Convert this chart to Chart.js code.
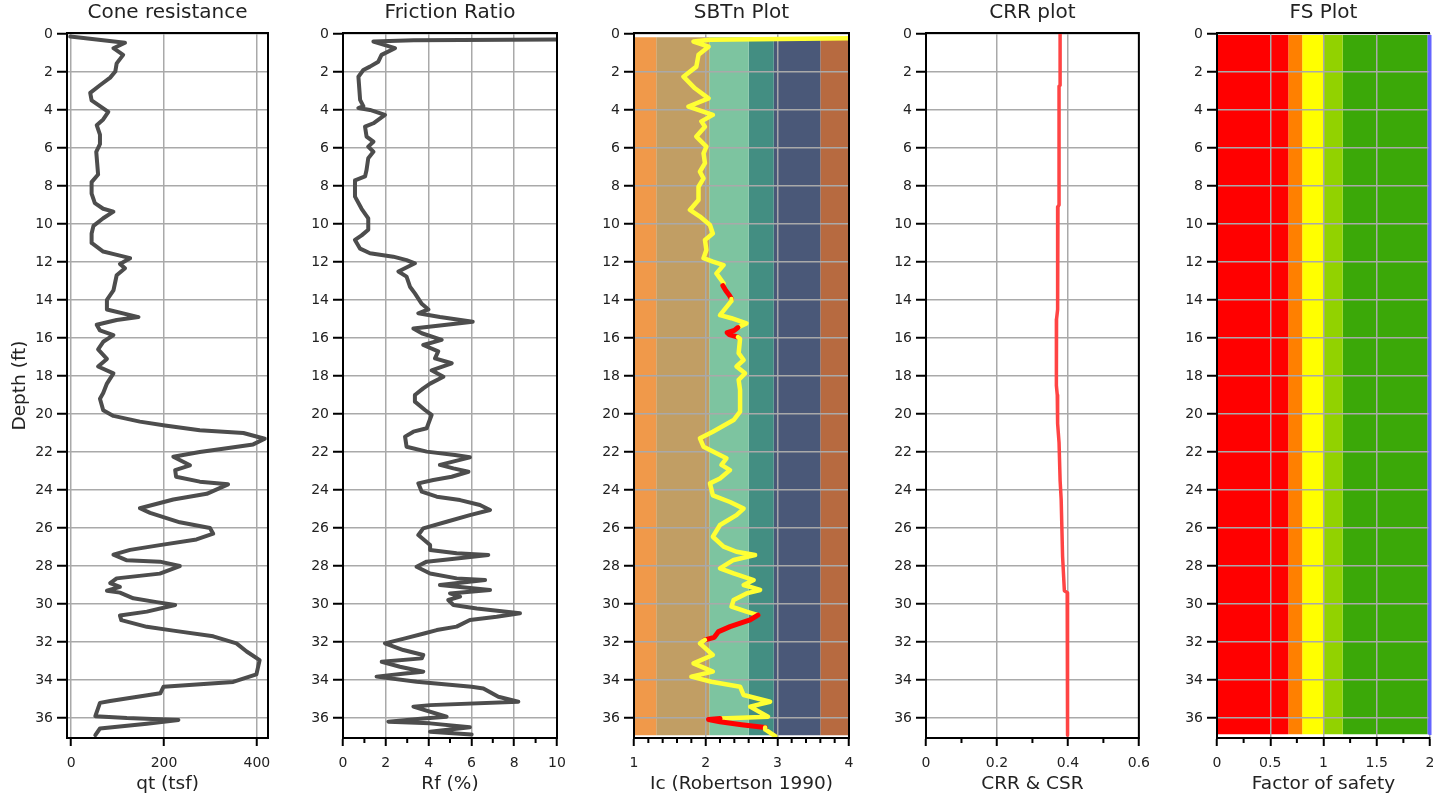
<!DOCTYPE html>
<html>
<head>
<meta charset="utf-8">
<title>CPT liquefaction plots</title>
<script src="https://cdn.jsdelivr.net/npm/chart.js@4.4.1/dist/chart.umd.min.js"></script>
<style>
  body { margin: 0; background: #fff; width: 1453px; height: 799px; overflow: hidden; position: relative; }
  canvas { position: absolute; top: 0; }
</style>
</head>
<body>
<canvas id="qtChart"></canvas>
<canvas id="rfChart"></canvas>
<canvas id="sbtChart"></canvas>
<canvas id="crrChart"></canvas>
<canvas id="fsChart"></canvas>
<script>
// depth axis
const depthTicks = [0, 2, 4, 6, 8, 10, 12, 14, 16, 18, 20, 22, 24, 26, 28, 30, 32, 34, 36];

// cone resistance qt (tsf) vs depth (ft)
const qtDepth = [0.14, 0.46, 0.75, 1.1, 1.55, 1.98, 2.3, 2.7, 3.1, 3.5, 3.8, 4.1, 4.5, 4.8, 5.3, 5.8, 6.2, 6.8, 7.4, 7.8,
  8.4, 8.9, 9.2, 9.35, 9.7, 10.1, 10.5, 11.0, 11.45, 11.6, 11.8, 12.1, 12.33, 12.7, 13.5, 14.0, 14.5, 14.9, 15.05, 15.3,
  15.6, 15.85, 16.2, 16.6, 17.1, 17.5, 17.86, 18.4, 18.9, 19.2, 19.8, 20.1, 20.4, 20.6, 20.85, 21.0, 21.3, 21.6, 21.8, 22.0,
  22.25, 22.7, 22.95, 23.3, 23.56, 23.7, 24.2, 24.5, 24.96, 25.2, 25.7, 26.0, 26.3, 26.6, 26.9, 27.15, 27.4, 27.7, 27.77, 28.0,
  28.4, 28.65, 28.9, 29.1, 29.3, 29.4, 29.7, 29.9, 30.05, 30.4, 30.6, 30.85, 31.2, 31.4, 31.7, 32.07, 32.5, 32.95, 33.7, 34.1,
  34.35, 34.7, 35.1, 35.2, 35.9, 36.0, 36.1, 36.3, 36.55, 36.9];
const qtValue = [-2, 116, 91, 112, 98, 95, 84, 62, 41, 44, 62, 80, 69, 55, 62, 62, 54, 56, 58, 44,
  44, 51, 69, 91, 69, 48, 44, 44, 69, 94, 127, 105, 116, 98, 91, 77, 77, 145, 98, 55,
  62, 91, 69, 58, 77, 58, 91, 77, 69, 62, 69, 91, 148, 202, 277, 371, 417, 392, 335, 277,
  220, 256, 224, 226, 277, 338, 292, 220, 148, 170, 234, 299, 306, 270, 191, 127, 91, 120, 191, 234,
  191, 98, 84, 105, 77, 105, 134, 184, 224, 163, 105, 108, 163, 220, 306, 356, 378, 406, 399, 349,
  199, 192, 84, 62, 52, 120, 231, 163, 62, 52];

// friction ratio Rf (%) vs depth (ft)
const rfDepth = [0.28, 0.33, 0.4, 0.75, 1.1, 1.46, 1.72, 1.9, 2.25, 3.47, 3.8, 3.9, 4.0, 4.26, 4.7, 4.88, 5.4, 5.67, 5.93, 6.2,
  6.54, 7.16, 7.5, 7.7, 8.56, 9.2, 9.7, 10.3, 10.6, 10.84, 11.3, 11.54, 11.72, 11.9, 12.07, 12.5, 12.77, 13.3, 13.65, 14.2,
  14.5, 14.7, 14.9, 15.14, 15.3, 15.5, 15.75, 16.1, 16.37, 16.7, 17.07, 17.33, 17.7, 18.04, 18.4, 18.65, 19.0, 19.35, 19.79, 20.05,
  20.75, 20.93, 21.19, 21.72, 21.98, 22.16, 22.28, 22.68, 22.86, 23.04, 23.3, 23.47, 23.65, 24.09, 24.35, 24.53, 24.79, 25.05, 25.32, 25.67,
  26.02, 26.37, 26.89, 27.16, 27.33, 27.42, 27.6, 27.77, 28.04, 28.39, 28.65, 28.74, 29.0, 29.26, 29.44, 29.61, 29.79, 30.05, 30.23, 30.49,
  30.67, 30.84, 31.19, 31.37, 31.54, 31.81, 32.07, 32.42, 32.68, 32.86, 33.04, 33.3, 33.56, 33.65, 33.82, 34.09, 34.35, 34.44, 34.88, 35.14,
  35.32, 35.4, 35.93, 36.02, 36.19, 36.28, 36.49, 36.72, 36.86];
const rfValue = [12, 3.3, 1.42, 2.43, 1.8, 1.65, 1.26, 0.95, 0.72, 0.8, 0.95, 0.72, 1.26, 1.96, 1.42, 1.03, 1.1, 1.42, 1.18, 1.42,
  1.18, 1.1, 1.03, 0.56, 0.56, 0.87, 1.18, 1.18, 0.87, 0.56, 0.8, 1.26, 2.35, 2.97, 3.36, 2.59, 2.97, 3.13, 3.36, 3.68,
  3.99, 3.52, 4.53, 6.06, 4.84, 3.29, 3.68, 4.61, 3.75, 4.45, 4.3, 5.08, 4.14, 4.69, 4.07, 3.75, 3.36, 3.36, 3.83, 4.14,
  3.91, 3.29, 2.9, 2.97, 3.91, 5.23, 5.93, 4.53, 5.16, 5.86, 5.08, 4.22, 3.52, 3.68, 4.38, 5.47, 6.4, 6.87, 5.93, 4.84,
  3.75, 3.52, 4.07, 4.07, 5.31, 6.79, 5.31, 3.91, 3.44, 4.07, 5.31, 6.64, 4.53, 6.87, 5.0, 5.47, 4.92, 5.16, 6.25, 8.27,
  7.18, 5.93, 5.31, 4.38, 3.83, 2.9, 1.96, 2.82, 3.75, 3.68, 1.81, 2.66, 3.75, 2.9, 1.57, 3.44, 6.01, 6.56, 7.26, 8.19,
  4.07, 3.29, 4.84, 3.75, 2.12, 4.07, 5.93, 4.07, 6.01];

// soil behaviour type index Ic vs depth, liq = 1 where flagged liquefiable
const icDepth = [0.2, 0.3, 0.4, 0.67, 1.1, 1.72, 2.25, 2.86, 3.39, 3.82, 4.26, 4.6, 4.88, 5.4, 5.93, 6.28, 6.8, 7.25, 7.6, 8.04,
  8.74, 9.26, 9.61, 10.05, 10.5, 10.84, 11.37, 11.8, 11.98, 12.16, 12.6, 13.12, 13.25, 13.5, 13.75, 13.95, 14.05, 14.8, 14.96, 15.23,
  15.45, 15.6, 15.72, 15.82, 15.95, 16.05, 16.8, 17.16, 17.5, 17.86, 18.2, 18.74, 19.88, 20.32, 20.93, 21.28, 21.72, 22.07, 22.33, 22.68,
  22.95, 23.39, 23.65, 24.28, 24.63, 24.98, 25.32, 25.84, 26.46, 26.98, 27.25, 27.42, 27.68, 28.12, 28.39, 28.74, 29.0, 29.26, 29.44, 29.79,
  30.14, 30.4, 30.58, 30.84, 31.19, 31.45, 31.75, 31.89, 32.07, 32.68, 33.12, 33.56, 33.82, 34.09, 34.35, 34.79, 35.14, 35.4, 35.93, 36.02,
  36.08, 36.2, 36.35, 36.5, 36.6, 36.95];
const icValue = [4.6, 2.06, 1.83, 2.04, 1.9, 1.87, 1.69, 1.85, 2.04, 1.76, 2.1, 1.94, 1.99, 1.87, 2.01, 1.97, 1.99, 1.92, 1.97, 1.9,
  1.9, 1.78, 1.92, 2.06, 2.1, 1.99, 2.01, 1.97, 2.1, 2.25, 2.15, 2.25, 2.24, 2.28, 2.33, 2.36, 2.36, 2.2, 2.36, 2.57,
  2.45, 2.40, 2.30, 2.33, 2.45, 2.48, 2.46, 2.53, 2.43, 2.55, 2.46, 2.48, 2.48, 2.39, 2.1, 1.92, 1.97, 2.15, 2.29, 2.22,
  2.34, 2.2, 2.06, 2.1, 2.34, 2.53, 2.43, 2.2, 2.1, 2.25, 2.43, 2.69, 2.39, 2.2, 2.39, 2.67, 2.53, 2.76, 2.57, 2.39,
  2.36, 2.57, 2.73, 2.62, 2.34, 2.18, 2.12, 1.99, 1.92, 2.1, 1.83, 2.1, 1.8, 2.08, 2.48, 2.53, 2.9, 2.62, 2.87, 2.2,
  2.04, 2.2, 2.5, 2.83, 2.83, 2.97];
const icLiq = [0, 0, 0, 0, 0, 0, 0, 0, 0, 0, 0, 0, 0, 0, 0, 0, 0, 0, 0, 0,
  0, 0, 0, 0, 0, 0, 0, 0, 0, 0, 0, 0, 1, 1, 1, 1, 0, 0, 0, 0,
  1, 1, 1, 1, 1, 0, 0, 0, 0, 0, 0, 0, 0, 0, 0, 0, 0, 0, 0, 0,
  0, 0, 0, 0, 0, 0, 0, 0, 0, 0, 0, 0, 0, 0, 0, 0, 0, 0, 0, 0,
  0, 0, 1, 1, 1, 1, 1, 1, 0, 0, 0, 0, 0, 0, 0, 0, 0, 0, 0, 1,
  1, 1, 1, 1, 0, 0];

// Robertson (1990) zone boundaries on Ic, and depth span of the zone bands
const sbtBounds = [1, 1.31, 2.05, 2.6, 2.95, 3.6, 4];
const sbtSpan = [0.17, 36.9];

// cyclic resistance ratio vs depth
const crrDepth = [0.0, 2.7, 2.75, 9.0, 9.1, 14.5, 15.0, 17.0, 18.5, 19.0, 20.5, 21.5, 23.5, 24.5, 27.5, 29.3, 29.4, 36.9];
const crrValue = [0.378, 0.378, 0.375, 0.375, 0.372, 0.371, 0.368, 0.367, 0.368, 0.370, 0.371, 0.375, 0.378, 0.381, 0.385, 0.390, 0.398, 0.399];

// factor of safety classes and depth span
const fsBounds = [0, 0.67, 0.8, 1.0, 1.18, 1.975, 2.0];
const fsSpan = [0.05, 36.85];

// x axis ticks per panel
const qtTicks = [0, 200, 400];
const rfTicks = [0, 2, 4, 6, 8, 10];
const rfMinor = [1, 3, 5, 7, 9];
const icTicks = [1, 2, 3, 4];
const icMinor = [1.2, 1.4, 1.6, 1.8, 2.2, 2.4, 2.6, 2.8, 3.2, 3.4, 3.6, 3.8];
const crrTicks = [0, 0.2, 0.4, 0.6];
const crrMinor = [0.1, 0.3, 0.5];
const fsTicks = [0, 0.5, 1, 1.5, 2];
const fsMinor = [0.25, 0.75, 1.25, 1.75];

// styles
const FONT = "'DejaVu Sans', sans-serif";
const TEXT = '#222';
const GRID = '#a9a9a9';
const CURVE = '#4d4d4d';
const sbtColors = ['#f0994a', '#c19e64', '#7dc4a0', '#438e82', '#4a5878', '#b76a40'];
const fsColors = ['#ff0000', '#ff8000', '#ffff00', '#92d200', '#3ba808', '#6464ff'];

const PLOT_BOTTOM = 738;
const H = 799;

function pts(xs, ys) {
  return ys.map((d, i) => ({ x: xs[i], y: d }));
}

function bandSets(bounds, span, colors) {
  return bounds.slice(0, -1).map((x0, i) => {
    const x1 = bounds[i + 1];
    return {
      data: [{ x: x0, y: span[0] }, { x: x1, y: span[0] }, { x: x1, y: span[1] }, { x: x0, y: span[1] }],
      showLine: true,
      fill: 'shape',
      backgroundColor: colors[i],
      borderColor: 'rgba(0,0,0,0)',
      borderWidth: 0,
      pointRadius: 0
    };
  });
}

// frame around the plot area plus short minor ticks on the x axis
const framePlugin = {
  id: 'frame',
  afterDraw(chart, args, opts) {
    const ctx = chart.ctx;
    const a = chart.chartArea;
    ctx.save();
    ctx.lineWidth = 2;
    ctx.strokeStyle = '#000';
    ctx.beginPath();
    ctx.moveTo(a.right, a.top);
    ctx.lineTo(a.left, a.top);
    ctx.lineTo(a.left, a.bottom);
    ctx.lineTo(a.right, a.bottom);
    ctx.stroke();
    ctx.strokeStyle = opts.rightColor || '#000';
    ctx.lineWidth = opts.rightColor ? 3 : 2;
    ctx.beginPath();
    ctx.moveTo(a.right, a.top + (opts.rightColor ? 2 : -1));
    ctx.lineTo(a.right, a.bottom - (opts.rightColor ? 3 : -1));
    ctx.stroke();
    ctx.strokeStyle = '#000';
    ctx.lineWidth = 2;
    const xs = chart.scales.x;
    ctx.beginPath();
    (opts.minor || []).forEach(v => {
      const px = xs.getPixelForValue(v);
      ctx.moveTo(px, a.bottom);
      ctx.lineTo(px, a.bottom + 5);
    });
    ctx.stroke();
    ctx.restore();
  }
};

function buildPanel(id, p) {
  const yW = p.yTitle ? p.plotLeft : 60;
  const left = p.plotLeft - yW;
  const canvas = document.getElementById(id);
  canvas.width = p.plotRight + 20 - left;
  canvas.height = H;
  canvas.style.left = left + 'px';

  return new Chart(canvas, {
    type: 'scatter',
    data: { datasets: p.datasets },
    plugins: [framePlugin],
    options: {
      responsive: false,
      animation: false,
      events: [],
      layout: { padding: { left: 0, right: 20, top: 0, bottom: 0 } },
      elements: {
        line: { tension: 0, borderJoinStyle: 'round', borderCapStyle: 'round' },
        point: { radius: 0 }
      },
      plugins: {
        legend: { display: false },
        tooltip: { enabled: false },
        filler: { drawTime: 'beforeDraw' },
        frame: { minor: p.minor, rightColor: p.rightColor },
        title: {
          display: true,
          text: p.title,
          fullSize: false,
          color: TEXT,
          font: { family: FONT, size: 20, weight: 'normal' },
          padding: { top: 1, bottom: 8 }
        }
      },
      scales: {
        x: {
          type: 'linear',
          min: p.xMin,
          max: p.xMax,
          afterBuildTicks: s => { s.ticks = p.xTicks.map(v => ({ value: v })); },
          afterFit: s => { s.height = H - PLOT_BOTTOM; },
          grid: { color: GRID, lineWidth: 1.5, tickLength: 8, tickColor: '#000', tickWidth: 2 },
          border: { color: '#000', width: 2 },
          ticks: {
            color: TEXT, font: { family: FONT, size: 14 }, padding: 9,
            maxRotation: 0, autoSkip: false, callback: v => String(v)
          },
          title: {
            display: true, text: p.xTitle, color: TEXT,
            font: { family: FONT, size: 18.5 }, padding: { top: 0, bottom: 4 }
          }
        },
        y: {
          type: 'linear',
          reverse: true,
          min: -0.05,
          max: 37.05,
          afterBuildTicks: s => { s.ticks = depthTicks.map(v => ({ value: v })); },
          afterFit: s => { s.width = yW; },
          grid: { color: GRID, lineWidth: 1.5, tickLength: 10, tickColor: '#000', tickWidth: 2 },
          border: { color: '#000', width: 2 },
          ticks: {
            color: TEXT, font: { family: FONT, size: 14 }, padding: 4,
            autoSkip: false, callback: v => String(v)
          },
          title: {
            display: !!p.yTitle, text: p.yTitle || '', color: TEXT,
            font: { family: FONT, size: 18.5 }, padding: { top: 9, bottom: 0 }
          }
        }
      }
    }
  });
}

buildPanel('qtChart', {
  plotLeft: 67, plotRight: 268, xMin: -9, xMax: 424,
  xTicks: qtTicks, minor: [],
  title: 'Cone resistance', xTitle: 'qt (tsf)', yTitle: 'Depth (ft)',
  datasets: [{
    data: pts(qtValue, qtDepth), showLine: true,
    borderColor: CURVE, borderWidth: 4, pointRadius: 0
  }]
});

buildPanel('rfChart', {
  plotLeft: 343, plotRight: 557, xMin: 0, xMax: 10,
  xTicks: rfTicks, minor: rfMinor,
  title: 'Friction Ratio', xTitle: 'Rf (%)',
  datasets: [{
    data: pts(rfValue, rfDepth), showLine: true,
    borderColor: CURVE, borderWidth: 4, pointRadius: 0
  }]
});

buildPanel('sbtChart', {
  plotLeft: 634, plotRight: 849, xMin: 1, xMax: 4,
  xTicks: icTicks, minor: icMinor,
  title: 'SBTn Plot', xTitle: 'Ic (Robertson 1990)',
  datasets: bandSets(sbtBounds, sbtSpan, sbtColors).concat([{
    data: pts(icValue, icDepth), showLine: true,
    borderColor: '#ffff33', borderWidth: 4.5, pointRadius: 0,
    segment: {
      borderColor: c => (icLiq[c.p0DataIndex] && icLiq[c.p1DataIndex]) ? '#ff0000' : '#ffff33',
      borderWidth: c => (icLiq[c.p0DataIndex] && icLiq[c.p1DataIndex]) ? 5 : 4.5
    }
  }])
});

buildPanel('crrChart', {
  plotLeft: 925.5, plotRight: 1139, xMin: 0, xMax: 0.6,
  xTicks: crrTicks, minor: crrMinor,
  title: 'CRR plot', xTitle: 'CRR & CSR',
  datasets: [{
    data: pts(crrValue, crrDepth), showLine: true,
    borderColor: '#ff4444', borderWidth: 3.5, pointRadius: 0
  }]
});

buildPanel('fsChart', {
  plotLeft: 1216.5, plotRight: 1430, xMin: 0, xMax: 2,
  xTicks: fsTicks, minor: fsMinor, rightColor: fsColors[fsColors.length - 1],
  title: 'FS Plot', xTitle: 'Factor of safety',
  datasets: bandSets(fsBounds, fsSpan, fsColors)
});
</script>
</body>
</html>
